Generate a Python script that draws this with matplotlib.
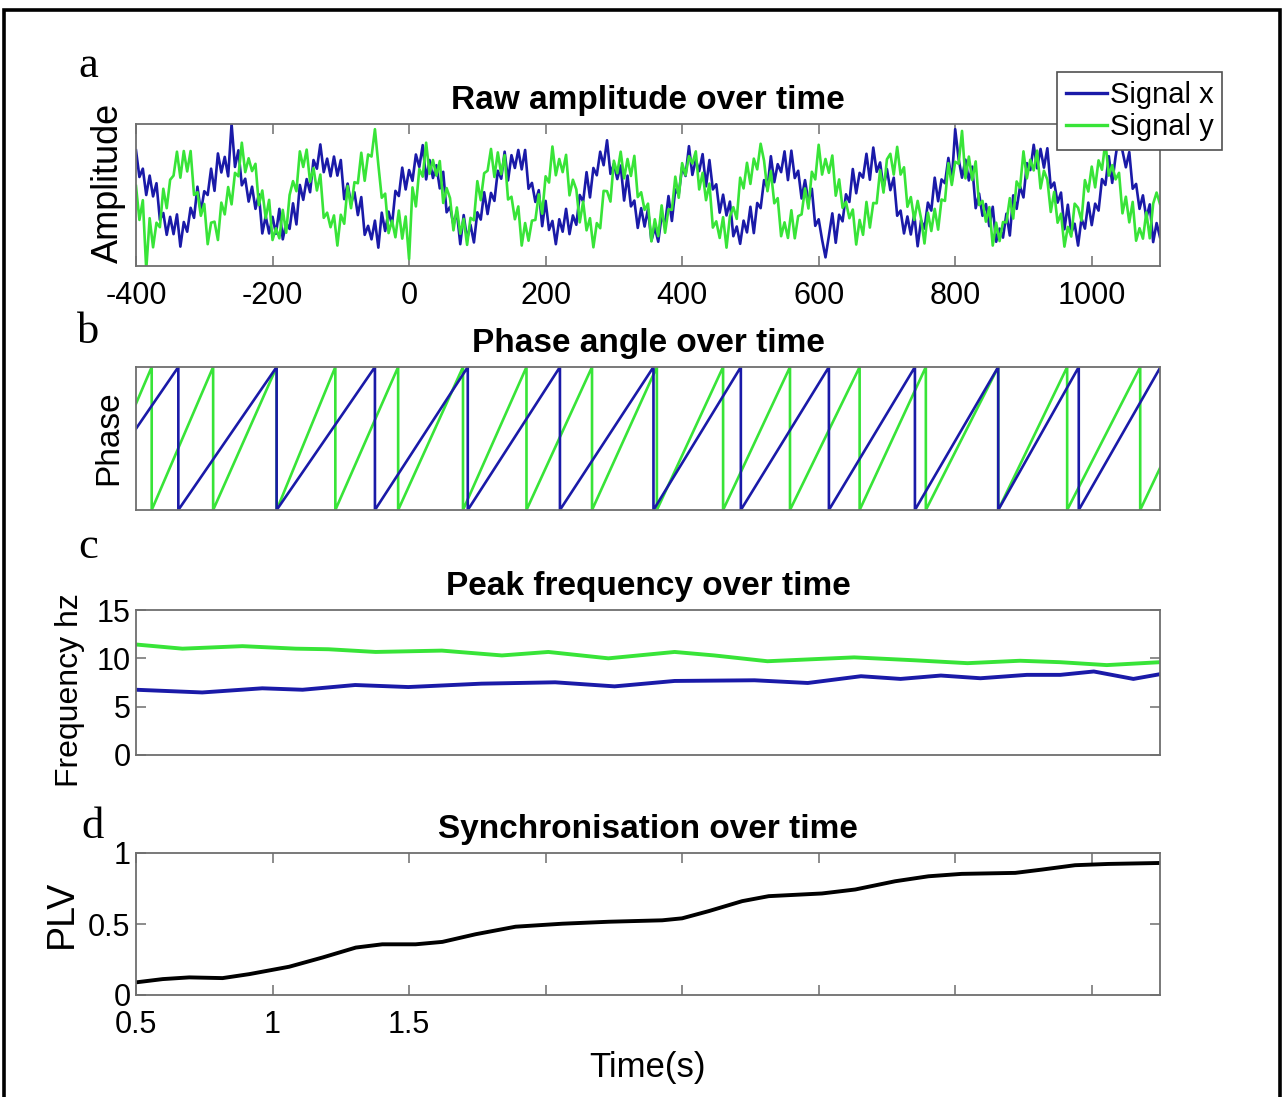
import numpy as np
import matplotlib
matplotlib.use('Agg')
import matplotlib.pyplot as plt
from matplotlib.patches import Rectangle

# ---------------- data ----------------
# panel a: raw samples every 5 ms starting at -400 ms
raw_t0, raw_dt = -400, 5
signal_x = [
 1.29, 0.52, 0.76, 0.00, 0.56, -0.04, 0.34, -0.72, -0.52, -1.15, -0.63, -1.13, -0.56, -1.49, -0.78, -1.06, -0.37, -0.66, 0.24, -0.49, 0.11, 0.00, 0.76, 0.12,
 1.20, 0.65, 1.10, 0.54, 2.05, 0.81, 1.29, 0.28, 0.47, -0.19, 0.24, -0.40, 0.02, -1.11, -0.61, -1.11, -0.63, -1.12, -0.40, -1.28, -0.80, -0.98, -0.24, -0.85,
 0.29, -0.14, 0.46, 0.08, 1.01, 0.76, 1.46, 0.66, 1.05, 0.54, 1.11, 0.56, 1.01, -0.12, 0.33, -0.26, 0.08, -0.58, -0.06, -1.15, -0.89, -1.28, -0.74, -1.52,
 -0.51, -1.04, -0.48, -0.86, 0.12, -0.03, 0.79, 0.16, 0.72, 0.41, 1.17, 0.81, 1.44, 0.45, 1.01, 0.49, 0.86, 0.19, 0.67, -0.50, -0.34, -0.86, -0.48, -1.42,
 -0.58, -1.27, -0.86, -1.37, -0.50, -0.71, 0.08, -0.55, 0.06, -0.17, 0.70, 0.47, 1.25, 0.42, 1.15, 0.78, 1.30, 0.74, 1.30, 0.18, 0.35, -0.20, 0.14, -0.90,
 -0.17, -1.01, -0.75, -1.42, -0.70, -1.06, -0.40, -1.13, -0.59, -0.86, 0.00, -0.19, 0.66, -0.07, 0.78, 0.57, 1.25, 0.86, 1.58, 0.61, 0.90, 0.46, 0.85, -0.16,
 0.56, -0.33, -0.16, -0.95, -0.38, -0.91, -0.41, -1.32, -0.94, -1.35, -0.59, -0.85, -0.03, -0.75, 0.16, 0.02, 0.81, 0.55, 1.41, 0.58, 1.01, 0.69, 1.18, 0.25,
 1.01, 0.16, 0.31, -0.51, 0.01, -0.59, -0.19, -1.19, -0.91, -1.41, -0.74, -1.08, -0.34, -1.10, -0.23, -0.38, 0.43, 0.20, 1.12, 0.37, 0.89, 0.66, 1.26, 0.43,
 1.28, 0.49, 0.70, -0.10, 0.43, -0.19, 0.18, -0.89, -0.70, -1.29, -1.80, -1.18, -0.53, -1.38, -0.57, -0.76, 0.02, -0.20, 0.75, 0.05, 0.64, 0.50, 1.19, 0.44,
 1.37, 0.67, 0.94, 0.20, 0.75, 0.14, 0.50, -0.60, -0.45, -1.11, -0.62, -1.14, -0.56, -1.48, -0.73, -0.97, -0.22, -0.45, 0.50, -0.18, 0.45, 0.34, 1.07, 0.39,
 1.90, 1.04, 0.50, 1.02, 0.42, 0.82, -0.38, 0.04, -0.60, -0.26, -0.90, -0.34, -1.35, -0.97, -1.23, -0.54, -1.17, -0.01, -0.40, 0.25, -0.07, 0.92, 0.72, 1.45,
 0.77, 1.33, 0.79, 1.35, 0.21, 0.36, -0.22, 0.07, -0.99, -0.28, -1.10, -0.83, -1.46, -0.68, -0.97, -0.22, -0.87, -0.25, -0.45, 0.46, 0.29, 1.12, 0.35, 1.12,
 1.75, 1.27, 0.80, 1.24, 0.18, 0.32, -0.40, -0.01, -0.67, -0.27, -1.36, -0.81, -1.22,
]
signal_y = [
 0.26, -0.72, -0.15, -2.15, -0.67, -1.51, -0.80, -0.93, 0.18, -0.38, 0.44, 0.56, 1.25, 0.50, 1.27, 0.68, 1.27, 0.00, 0.08, -0.60, -0.26, -1.42, -0.80,
 -0.77, -1.30, -0.22, -0.56, 0.23, -0.27, 0.64, 0.54, 1.51, 0.66, 1.06, 0.69, 0.90, -0.29, 0.13, -0.67, -0.14, -1.30, -0.96, -1.25, -0.43, -1.09, 0.00,
 0.40, 0.11, 1.26, 0.81, 1.31, 0.38, 0.78, 0.13, 0.59, -0.66, -0.51, -0.93, -0.59, -1.46, -0.57, -0.83, 0.26, -0.38, 0.37, 0.34, 1.22, 0.41, 1.17,
 1.11, 1.90, 0.87, -0.08, 0.04, -1.10, -0.74, -1.22, -0.45, -1.26, -0.62, -1.85, 0.22, -0.33, 0.75, 0.53, 1.51, 0.61, 1.01, 0.56, 0.98, -0.23, 0.20,
 -0.09, -1.02, -0.36, -1.12, -0.69, -1.44, -0.66, -0.73, 0.40, -0.15, 0.63, 0.70, 1.33, 0.52, 1.23, 0.60, 1.15, -0.13, -0.05, -0.70, -0.33, -1.46, -0.81,
 -1.32, -0.74, -0.72, 0.02, -0.54, 0.54, 0.36, 1.40, 0.57, 1.04, 0.66, 1.16, -0.01, 0.44, 0.16, -0.79, -0.19, -1.02, -0.67, -1.51, -0.81, -0.96, 0.12,
 0.11, -0.19, 0.99, 0.63, 1.25, 0.48, 1.04, 0.55, 1.13, -0.06, 0.08, -0.43, -0.25, -1.34, -0.70, -1.19, -0.30, -1.09, -0.41, -0.43, 0.53, -0.08, 0.92,
 0.57, 1.12, 0.91, 1.26, 0.16, 0.64, -0.15, 0.33, -0.94, -0.76, -1.24, -0.64, -1.52, -0.62, -0.35, -0.69, 0.50, 0.19, 0.93, 0.32, 1.05, 0.74, 1.48,
 0.99, 0.11, 0.69, -0.24, -0.09, -1.19, -0.79, -1.24, -0.44, -1.25, -0.61, -0.56, 0.19, -0.39, 0.67, 0.45, 1.45, 0.59, 1.04, 0.64, 1.14, -0.02, 0.45,
 -0.37, -0.20, -0.67, -0.42, -1.43, -0.72, -1.15, -0.20, -0.94, -0.23, -0.24, 0.72, 0.07, 1.03, 1.19, 0.59, 1.39, 0.59, 0.80, -0.34, -0.06, -0.72, -0.17,
 -0.68, -1.40, -0.51, -1.04, -0.40, -1.00, -0.13, -0.17, 0.92, 0.29, 0.96, 0.90, 1.85, 0.48, 1.11, 0.43, 0.97, -0.29, -0.17, -0.77, -0.35, -1.46, -0.80,
 -1.33, -0.78, -0.79, -0.09, -0.68, 0.39, 0.21, 1.26, 0.48, 1.02, 0.71, 1.28, 0.19, 0.70, 0.44, -0.49, 0.09, -0.80, -0.54, -1.49, -0.92, -1.20, -0.25,
 -0.37, -0.74, 0.43, 0.10, 0.82, 0.22, 1.00, 0.73, 1.54, 0.56, 0.86, 0.45, 0.64, -0.53, -0.05, -0.79, -0.20, -1.32, -0.96, -1.26, -0.50, -1.25, -0.25,
 0.07, -0.26,
]
amp_xticks = [-400, -200, 0, 200, 400, 600, 800, 1000]

# panel b: phase wrap times (ms) and phase at the window edges (rad)
phase_x_wraps = [-338, -194, -50, 86, 221, 358, 486, 615, 741, 863, 981]
phase_x_edges = [0.43, 3.10]
phase_y_wraps = [-377, -287, -194, -108, -16, 79, 172, 268, 363, 460, 558, 660, 757, 863, 964, 1071]
phase_y_edges = [1.53, -1.30]

# panel c: peak frequency (Hz)
freq_x_t = [-400, -303, -215, -156, -79, -1, 106, 214, 301, 389, 506, 584, 662, 720, 779, 837, 905, 954, 1003, 1061, 1100]
freq_x = [6.75, 6.47, 6.90, 6.75, 7.24, 7.03, 7.38, 7.52, 7.10, 7.66, 7.73, 7.45, 8.15, 7.87, 8.22, 7.94, 8.29, 8.29, 8.64, 7.87, 8.36]
freq_y_t = [-400, -332, -244, -166, -118, -49, 48, 136, 204, 292, 389, 447, 525, 652, 740, 818, 895, 954, 1022, 1100]
freq_y = [11.43, 11.00, 11.26, 11.00, 10.94, 10.66, 10.80, 10.30, 10.66, 10.00, 10.66, 10.30, 9.70, 10.10, 9.80, 9.50, 9.75, 9.60, 9.30, 9.60]
freq_yticks = [0, 5, 10, 15]

# panel d: phase locking value
plv_t = [0.5, 0.598, 0.695, 0.817, 0.915, 1.061, 1.183, 1.305, 1.402, 1.524, 1.622, 1.744, 1.890, 2.061, 2.232,
         2.427, 2.5, 2.598, 2.720, 2.817, 3.012, 3.134, 3.280, 3.402, 3.524, 3.720, 3.817, 3.939, 4.061, 4.256]
plv = [0.089, 0.112, 0.124, 0.119, 0.147, 0.199, 0.264, 0.334, 0.357, 0.357, 0.374, 0.428, 0.481, 0.502, 0.516,
       0.526, 0.540, 0.591, 0.661, 0.696, 0.715, 0.743, 0.801, 0.836, 0.853, 0.860, 0.883, 0.914, 0.923, 0.930]
plv_xticks = [0.5, 1.0, 1.5, 2.0, 2.5, 3.0, 3.5, 4.0]
plv_xticklabels = ['0.5', '1', '1.5', '', '', '', '', '']
plv_yticks = [0, 0.5, 1]
plv_yticklabels = ['0', '0.5', '1']

series_names = ['Signal x', 'Signal y']
titles = ['Raw amplitude over time', 'Phase angle over time', 'Peak frequency over time', 'Synchronisation over time']
ylabels = ['Amplitude', 'Phase', 'Frequency hz', 'PLV']
panel_letters = ['a', 'b', 'c', 'd']

# ---------------- style ----------------
BLUE = '#1a1aa8'
GREEN = '#38e438'
SPINE = '#6e6e6e'
plt.rcParams['font.family'] = ['Liberation Sans', 'DejaVu Sans']
plt.rcParams['axes.unicode_minus'] = False

fig = plt.figure(figsize=(12.83, 10.97), dpi=100)
L, W = 136 / 1283, 1024 / 1283
H = 1097
ax_a = fig.add_axes([L, 1 - 266 / H, W, 142 / H])
ax_b = fig.add_axes([L, 1 - 510 / H, W, 143 / H])
ax_c = fig.add_axes([L, 1 - 755 / H, W, 145 / H])
ax_d = fig.add_axes([L, 1 - 995 / H, W, 142 / H])
axes = [ax_a, ax_b, ax_c, ax_d]

TICK_FS = 22
for ax in axes:
    for s in ax.spines.values():
        s.set_color(SPINE)
        s.set_linewidth(1.3)
    ax.tick_params(direction='in', length=7, width=1.1, color=SPINE,
                   labelsize=TICK_FS, top=True, right=True)

# panel a
t_raw = raw_t0 + raw_dt * np.arange(len(signal_x))
t_raw_y = raw_t0 + raw_dt * np.arange(len(signal_y))
ax_a.plot(t_raw, signal_x, color=BLUE, lw=1.9, label=series_names[0])
ax_a.plot(t_raw_y, signal_y, color=GREEN, lw=1.9, label=series_names[1])
ax_a.set_xlim(-400, 1100)
ax_a.set_ylim(-2.05, 2.05)
ax_a.set_xticks(amp_xticks)
ax_a.set_yticks([])
ax_a.tick_params(axis='x', pad=11)

# panel b
def saw(wraps, edges, t0=-400, t1=1100):
    xs, ys = [t0], [edges[0]]
    for w in wraps:
        xs += [w, w]
        ys += [np.pi, -np.pi]
    xs.append(t1)
    ys.append(edges[1])
    return xs, ys

xs, ys = saw(phase_y_wraps, phase_y_edges)
ax_b.plot(xs, ys, color=GREEN, lw=1.9)
xs, ys = saw(phase_x_wraps, phase_x_edges)
ax_b.plot(xs, ys, color=BLUE, lw=1.9)
ax_b.set_xlim(-400, 1100)
ax_b.set_ylim(-np.pi, np.pi)
ax_b.set_xticks([])
ax_b.set_yticks([])

# panel c
ax_c.plot(freq_y_t, freq_y, color=GREEN, lw=2.8, solid_joinstyle='round')
ax_c.plot(freq_x_t, freq_x, color=BLUE, lw=2.8, solid_joinstyle='round')
ax_c.set_xlim(-400, 1100)
ax_c.set_ylim(0, 15)
ax_c.set_xticks([])
ax_c.set_yticks(freq_yticks)
ax_c.tick_params(axis='y', pad=4)

# panel d
ax_d.plot(plv_t, plv, color='black', lw=2.8, solid_joinstyle='round')
ax_d.set_xlim(0.5, 4.25)
ax_d.set_ylim(0, 1)
ax_d.set_xticks(plv_xticks)
ax_d.set_xticklabels(plv_xticklabels)
ax_d.set_yticks(plv_yticks)
ax_d.set_yticklabels(plv_yticklabels)
ax_d.tick_params(axis='x', pad=11)
ax_d.tick_params(axis='y', pad=4)
ax_d.set_xlabel('Time(s)', fontsize=25)
ax_d.xaxis.set_label_coords(0.5, -0.51)
ax_d.xaxis.label.set_verticalalignment('center')

# titles, labels
for ax, ttl in zip(axes, titles):
    ax.set_title(ttl, fontsize=24, fontweight='bold', pad=11)

ylab_sizes = [26, 24, 23, 27]
ylab_pos = [(-0.027, 0.585), (-0.027, 0.503), (-0.064, 0.448), (-0.072, 0.57)]
for ax, lab, fs, (px, py) in zip(axes, ylabels, ylab_sizes, ylab_pos):
    ax.set_ylabel(lab, fontsize=fs)
    ax.yaxis.set_label_coords(px, py)
    ax.yaxis.label.set_verticalalignment('center')

letter_pos = [(88, 66), (88, 332), (88, 547), (93, 827)]
for ch, (px, py) in zip(panel_letters, letter_pos):
    fig.text(px / 1283, 1 - py / H, ch, fontsize=32, family=['Liberation Serif', 'DejaVu Serif'],
             ha='center', va='center')

leg = ax_a.legend(loc='upper right', bbox_to_anchor=(1222 / 1283, 1 - 72 / H),
                  bbox_transform=fig.transFigure, fontsize=21, frameon=True, fancybox=False,
                  framealpha=1, edgecolor='#505050', handlelength=1.4, handletextpad=0.1,
                  labelspacing=0.15, borderpad=0.3, borderaxespad=0)
for line in leg.get_lines():
    line.set_linewidth(2.4)
leg.get_frame().set_linewidth(1.2)

# outer frame
fig.patches.append(Rectangle((4 / 1283, -0.02), 1276 / 1283, 1.02 - 10 / H,
                             transform=fig.transFigure, fill=False, ec='black', lw=2.6))

fig.savefig('out.png', dpi=100)
